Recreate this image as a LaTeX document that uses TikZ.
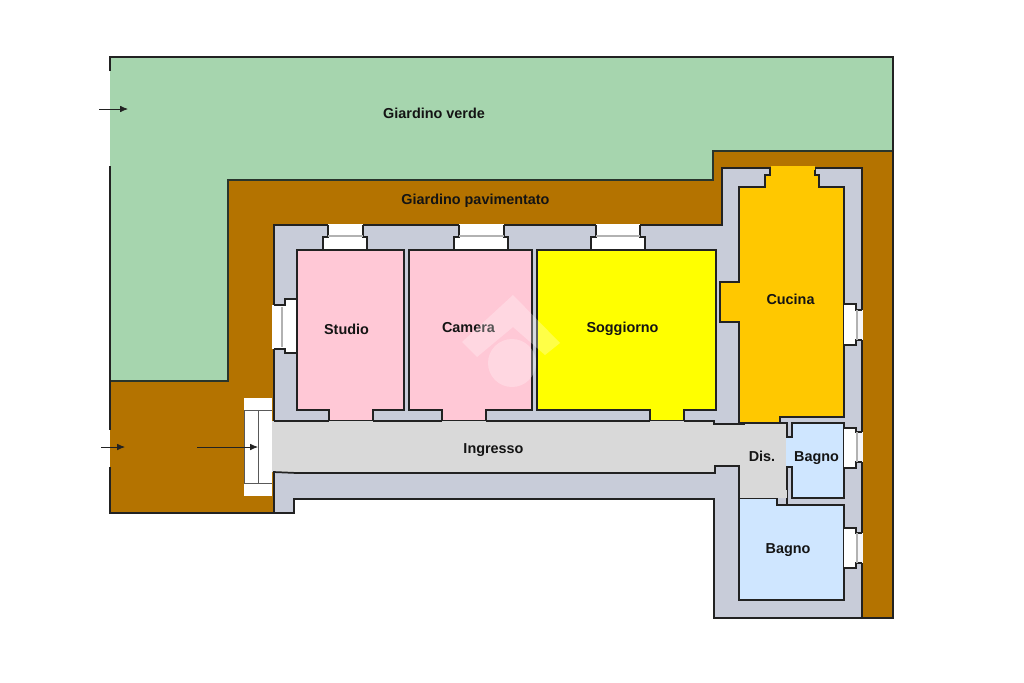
\documentclass[tikz,border=0pt]{standalone}
\usepackage{fontspec}
\setmainfont{Liberation Sans}
\usetikzlibrary{arrows.meta}
\definecolor{green1}{HTML}{A6D5AE}
\definecolor{brown1}{HTML}{B47300}
\definecolor{wall}{HTML}{C8CCD9}
\definecolor{hall}{HTML}{D9D9D9}
\definecolor{pink1}{HTML}{FFC8D6}
\definecolor{yel}{HTML}{FFFF00}
\definecolor{kit}{HTML}{FFC800}
\definecolor{bath}{HTML}{CFE6FF}
\definecolor{ink}{HTML}{222222}
\tikzset{
  outline/.style={draw=ink,line width=1.3pt,line join=miter},
  thinline/.style={draw=ink,line width=0.9pt},
  roomlabel/.style={font=\bfseries\fontsize{10.8}{12}\selectfont,text=black!92,inner sep=0pt,anchor=base},
  arrowline/.style={draw=ink,line width=0.6pt,-{Latex[length=6pt,width=5pt]}},
  glass/.style={draw=black!30,line width=0.8pt},
}
\begin{document}
\begin{tikzpicture}[x=0.75pt,y=-0.75pt]
\useasboundingbox (0,0) rectangle (1024,682);
\fill[white] (0,0) rectangle (1024,682);
% gardens
\fill[green1] (110,57)--(893,57)--(893,151)--(713,151)--(713,180)--(228,180)--(228,381)--(110,381)--cycle;
\fill[brown1] (110,381)--(228,381)--(228,180)--(713,180)--(713,151)--(893,151)--(893,618)--(860,618)--(860,230)--(274,230)--(274,513)--(110,513)--cycle;
\draw[thinline,draw=black!75!green1] (110,381)--(228,381)--(228,180)--(713,180)--(713,151)--(893,151);
\draw[outline] (110,71)--(110,57)--(893,57)--(893,618)--(862,618);
\draw[outline] (110,166)--(110,381);
\draw[outline] (110,381)--(110,430);
\draw[outline] (110,467)--(110,513)--(274,513);
% walls
\fill[wall] (274,225)--(722,225)--(722,168)--(862,168)--(862,618)--(714,618)--(714,499)--(294,499)--(294,513)--(274,513)--cycle;
\draw[outline] (274,513)--(274,225)--(722,225)--(722,168)--(862,168)--(862,618)--(714,618)--(714,499)--(294,499)--(294,513)--(274,513);
% steps
\fill[white] (244,398) rectangle (272,496);
\draw[line width=0.7pt,draw=black!65] (244,410)--(244,483) (244,410)--(272,410) (244,483)--(272,483) (258,410)--(258,483);
% windows
\foreach \xa/\xb/\xc/\xd in {328/363/323/367,459/504/454/508,596/640/591/645}{
  \fill[white] (\xa,224) rectangle (\xb,238);
  \fill[white] (\xc,237) rectangle (\xd,250);
  \draw[outline] (\xa,225)--(\xa,237)--(\xc,237)--(\xc,249);
  \draw[outline] (\xb,225)--(\xb,237)--(\xd,237)--(\xd,249);
  \draw[glass] (\xa,236)--(\xb,236);
}
\fill[white] (272,305) rectangle (286,349);
\fill[white] (285,299) rectangle (298,353);
\draw[outline] (274,305)--(285,305)--(285,299)--(297,299);
\draw[outline] (274,349)--(285,349)--(285,353)--(297,353);
\draw[glass] (282,307)--(282,347);
% rooms
\filldraw[fill=pink1,outline] (297,250)--(404,250)--(404,410)--(373,410)--(373,421)--(329,421)--(329,410)--(297,410)--cycle;
\filldraw[fill=pink1,outline] (409,250)--(532,250)--(532,410)--(486,410)--(486,421)--(442,421)--(442,410)--(409,410)--cycle;
\filldraw[fill=yel,outline] (537,250)--(716,250)--(716,410)--(684,410)--(684,421)--(650,421)--(650,410)--(537,410)--cycle;
\filldraw[fill=kit,outline] (770,168)--(770,175)--(765,175)--(765,187)--(739,187)--(739,282)--(720,282)--(720,322)--(739,322)--(739,423)--(745,423)--(780,423)--(780,417)--(844,417)--(844,187)--(819,187)--(819,175)--(815,175)--(815,168);
\fill[kit] (770.5,166) rectangle (814.5,170);
% hall
\fill[hall] (272,421)--(714,421)--(714,424)--(787,424)--(787,498)--(739,498)--(739,466)--(715,466)--(715,474)--(297,474)--(297,472)--(272,472)--cycle;
\draw[outline] (274,421)--(329,421) (373,421)--(442,421) (486,421)--(650,421) (684,421)--(714,421)--(714,424)--(745,424);
\draw[outline] (273,472)--(297,473)--(715,473)--(715,466)--(739,466)--(739,498);
% baths
\fill[wall] (780,418) rectangle (843,423);
\filldraw[fill=bath,outline] (792,423)--(844,423)--(844,498)--(792,498)--(792,467)--(787,467)--(787,437)--(792,437)--cycle;
\fill[bath] (786,438) rectangle (792,466);
\draw[outline] (780,417)--(780,423)--(787,423)--(787,437);
\draw[outline] (787,467)--(787,505)--(777,505)--(777,498)--(739,498);
\fill[wall] (788,499) rectangle (843,504);
\filldraw[fill=bath,outline] (739,498)--(777,498)--(777,505)--(844,505)--(844,600)--(739,600)--cycle;
\fill[hall] (739.6,490) rectangle (787,498);
\draw[outline] (777,505)--(844,505);
% right-hand windows
\foreach \ya/\yb/\yc/\yd in {304/345/310/340,428/468/432/462,528/568/533/563}{
  \fill[white] (843.5,\ya) rectangle (857,\yb);
  \fill[white!85!wall] (857,\yc) rectangle (863,\yd);
  \draw[outline] (844,\ya)--(856,\ya)--(856,\yc)--(862,\yc);
  \draw[outline] (844,\yb)--(856,\yb)--(856,\yd)--(862,\yd);
  \draw[glass] (857,\yc)--(857,\yd);
}
% arrows
\coordinate (a1s) at (99,109); \coordinate (a1e) at (128,109);
\coordinate (a2s) at (101,447); \coordinate (a2e) at (125,447);
\coordinate (a3s) at (197,447); \coordinate (a3e) at (258,447);
\draw[arrowline] (a1s)--(a1e);
\draw[arrowline] (a2s)--(a2e);
\draw[arrowline] (a3s)--(a3e);
% labels
\node[roomlabel] (giardinov) at (434,118) {Giardino verde};
\node[roomlabel] (giardinop) at (475.5,204) {Giardino pavimentato};
\node[roomlabel] (studio) at (346.5,334) {Studio};
\node[roomlabel] (camera) at (468.5,332) {Camera};
\node[roomlabel] (soggiorno) at (622.5,332) {Soggiorno};
\node[roomlabel] (cucina) at (790.5,304) {Cucina};
\node[roomlabel] (ingresso) at (493.5,453) {Ingresso};
\node[roomlabel] (dis) at (762,461) {Dis.};
\node[roomlabel] (bagnoa) at (816.5,461) {Bagno};
\node[roomlabel] (bagnob) at (788,553) {Bagno};
% watermark
\fill[white,opacity=0.28,even odd rule] (513,295)--(560,343)--(545,355)--(513,327)--(477,357)--(462,342)--cycle (512,363) circle [radius=24];
\end{tikzpicture}
\end{document}
